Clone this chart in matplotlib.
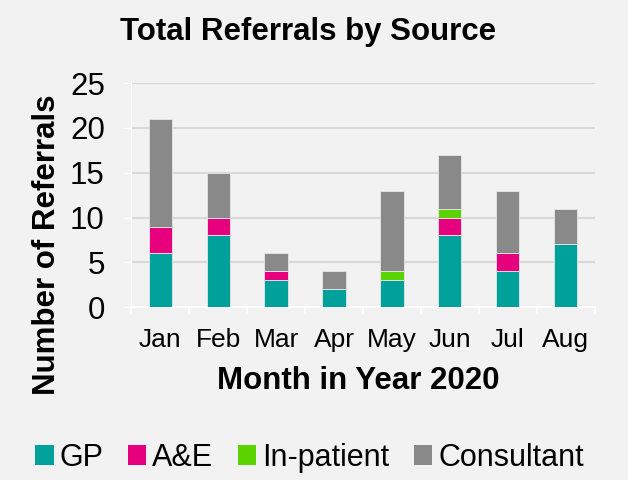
import numpy as np
import matplotlib.pyplot as plt
from matplotlib.patches import Patch

months = ['Jan', 'Feb', 'Mar', 'Apr', 'May', 'Jun', 'Jul', 'Aug']
gp = [6, 8, 3, 2, 3, 8, 4, 7]
ae = [3, 2, 1, 0, 0, 2, 2, 0]
inpatient = [0, 0, 0, 0, 1, 1, 0, 0]
consultant = [12, 5, 2, 2, 9, 6, 7, 4]

series = [('GP', gp, '#00A19A'), ('A&E', ae, '#E6007E'),
          ('In-patient', inpatient, '#5BD300'), ('Consultant', consultant, '#898989')]

plt.rcParams['font.family'] = ['Liberation Sans', 'DejaVu Sans']
bg = '#F2F2F2'

fig = plt.figure(figsize=(6.28, 4.8), dpi=100, facecolor=bg)
ax = fig.add_axes([0.209, 0.360, 0.738, 0.467], facecolor=bg)

x = np.arange(len(months))
bottom = np.zeros(len(months))
for name, vals, col in series:
    ax.bar(x, vals, 0.4, bottom=bottom, color=col, edgecolor='#E8E8E8', linewidth=0.6, zorder=3)
    bottom += np.array(vals)

ax.set_xlim(-0.5, len(months) - 0.5)
ax.set_ylim(0, 25)
ax.set_yticks(range(0, 26, 5))
ax.yaxis.grid(True, color='#D9D9D9', linewidth=1.5, zorder=0)
for s in ['top', 'right']:
    ax.spines[s].set_visible(False)
ax.spines['left'].set_color('#FFFFFF')
ax.spines['bottom'].set_color('#FFFFFF')
ax.spines['bottom'].set_linewidth(1.5)

ax.set_xticks(x)
ax.set_xticklabels(months, fontsize=19)
ax.set_xticks(np.arange(-0.5, len(months)), minor=True)
ax.tick_params(axis='x', which='major', length=0, pad=15)
ax.tick_params(axis='x', which='minor', length=5, color='#FFFFFF', width=1.2)
ax.tick_params(axis='y', labelsize=22.5, length=5, color='#FFFFFF', pad=14)

ax.set_xlabel('Month in Year 2020', fontsize=22.5, fontweight='bold', va='center')
ax.xaxis.set_label_coords(0.49, -0.33)
ax.set_ylabel('Number of Referrals', fontsize=22.5, fontweight='bold', va='center')
ax.yaxis.set_label_coords(-0.181, 0.28)
fig.text(0.49, 0.933, 'Total Referrals by Source', fontsize=22.5, fontweight='bold', ha='center', va='center')

handles = [Patch(facecolor=c, label=n) for n, v, c in series]
fig.legend(handles=handles, loc='center', bbox_to_anchor=(0.493, 0.046), ncol=4, frameon=False,
           fontsize=22, handlelength=0.6, handleheight=0.6, handletextpad=0.2, columnspacing=0.8,
           borderpad=0)

fig.savefig('out.png', dpi=100, facecolor=bg)
